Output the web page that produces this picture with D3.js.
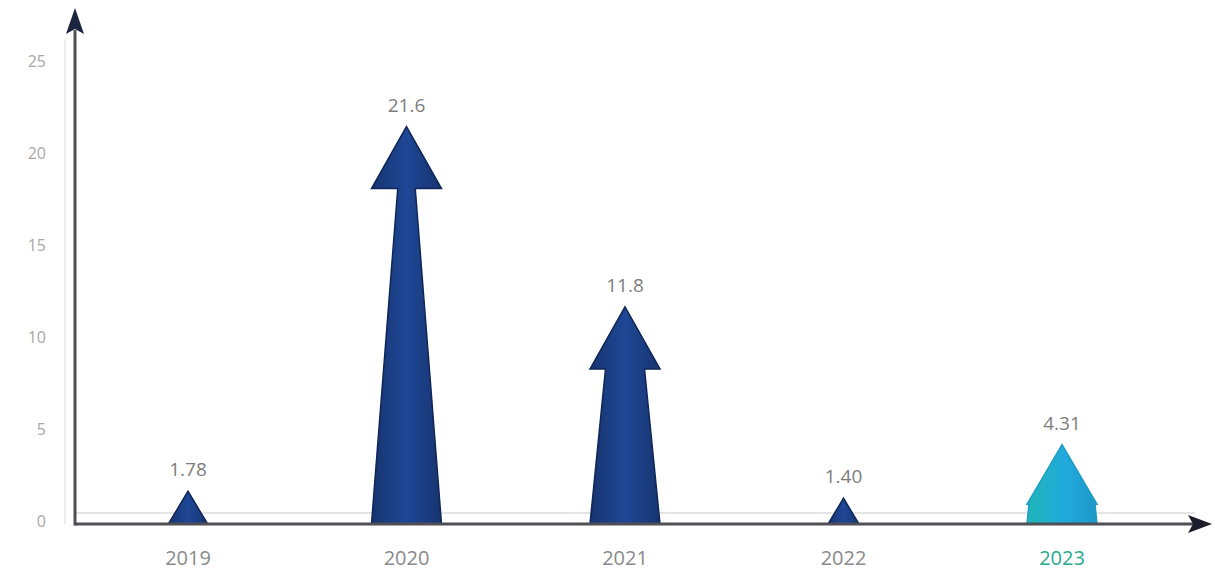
<!DOCTYPE html>
<html>
<head>
<meta charset="utf-8">
<script src="https://cdn.jsdelivr.net/npm/d3@7"></script>
<style>
  html, body { margin: 0; padding: 0; background: #fff; }
  svg { display: block; }
  text { font-family: "Open Sans", "Noto Sans", sans-serif; }
</style>
</head>
<body>
<svg id="chart" width="1215" height="574"></svg>
<script>
// Yearly values drawn as arrows
const years = ["2019", "2020", "2021", "2022", "2023"];
const values = [1.78, 21.6, 11.8, 1.40, 4.31];
const valueLabels = ["1.78", "21.6", "11.8", "1.40", "4.31"];
const yTicks = [0, 5, 10, 15, 20, 25];
const highlightYear = "2023";

const svg = d3.select("#chart");
const originX = 75, originY = 524;

const x = d3.scalePoint().domain(years).range([188, 1062]);
const y = d3.scaleLinear().domain([0, 25]).range([originY, 64]);

// Gradients for the arrow fills
const defs = svg.append("defs");
const gNavy = defs.append("linearGradient").attr("id", "navy").attr("x1", 0).attr("x2", 1).attr("y1", 0).attr("y2", 0);
gNavy.append("stop").attr("offset", "0%").attr("stop-color", "#17346f");
gNavy.append("stop").attr("offset", "50%").attr("stop-color", "#1f4796");
gNavy.append("stop").attr("offset", "100%").attr("stop-color", "#17346f");
const gCyan = defs.append("linearGradient").attr("id", "cyan").attr("x1", 0).attr("x2", 1).attr("y1", 0).attr("y2", 0);
gCyan.append("stop").attr("offset", "0%").attr("stop-color", "#1fb5b8");
gCyan.append("stop").attr("offset", "55%").attr("stop-color", "#21a9dc");
gCyan.append("stop").attr("offset", "100%").attr("stop-color", "#1d98c8");

// Faint guide lines beside the axes
svg.append("line").attr("x1", originX).attr("x2", 1195).attr("y1", originY - 11).attr("y2", originY - 11)
  .attr("stroke", "#e4e4e4").attr("stroke-width", 2);
svg.append("line").attr("x1", originX - 10).attr("x2", originX - 10).attr("y1", 40).attr("y2", originY)
  .attr("stroke", "#ececec").attr("stroke-width", 2);

// Y tick labels
svg.append("g").selectAll("text").data(yTicks).join("text")
  .attr("x", 46).attr("y", d => y(d) - 3).attr("dy", "0.35em")
  .attr("text-anchor", "end").attr("font-size", 16).attr("fill", "#a8a8a8")
  .text(d => d);

// Arrow path: triangular head over a tapering shaft (short values are plain triangles)
function arrowPath(cx, v) {
  const y0 = y(0), yt = y(v);
  const h = y0 - yt;
  const hw = Math.min(35, h * 0.6);
  const headH = h < 50 ? h : Math.min(62, h * 0.75);
  const shaftLen = h - headH;
  const topHalf = hw - Math.min(hw * 0.75, shaftLen * 0.1);
  const yb = yt + headH;
  if (shaftLen <= 0) {
    return ["M", cx, yt, "L", cx + hw, y0, "L", cx - hw, y0, "Z"].join(" ");
  }
  return [
    "M", cx, yt,
    "L", cx + hw, yb,
    "L", cx + topHalf, yb,
    "L", cx + hw, y0,
    "L", cx - hw, y0,
    "L", cx - topHalf, yb,
    "L", cx - hw, yb,
    "Z"
  ].join(" ");
}

const data = years.map((yr, i) => ({ year: yr, value: values[i], label: valueLabels[i] }));

svg.append("g").selectAll("path").data(data).join("path")
  .attr("d", d => arrowPath(x(d.year), d.value))
  .attr("fill", d => d.year === highlightYear ? "url(#cyan)" : "url(#navy)")
  .attr("stroke", d => d.year === highlightYear ? "#1c9cc4" : "#0f2657")
  .attr("stroke-width", 1.5)
  .attr("stroke-linejoin", "miter");

// Value labels above arrow tips
svg.append("g").selectAll("text").data(data).join("text")
  .attr("x", d => x(d.year)).attr("y", d => y(d.value) - 15)
  .attr("text-anchor", "middle").attr("font-size", 19).attr("fill", "#7d7d7d")
  .text(d => d.label);

// Axes with arrowheads
svg.append("line").attr("x1", originX).attr("x2", 1195).attr("y1", originY).attr("y2", originY)
  .attr("stroke", "#4f4f55").attr("stroke-width", 3);
svg.append("path").attr("d", `M1212 ${originY} L1188 ${originY - 9} L1193 ${originY} L1188 ${originY + 9} Z`)
  .attr("fill", "#1c1c2a");
svg.append("line").attr("x1", originX).attr("x2", originX).attr("y1", originY + 1.5).attr("y2", 30)
  .attr("stroke", "#4f4f55").attr("stroke-width", 3);
svg.append("path").attr("d", `M${originX} 8 L${originX + 9} 34 L${originX} 29 L${originX - 9} 34 Z`)
  .attr("fill", "#1c2440");

// Category labels
svg.append("g").selectAll("text").data(years).join("text")
  .attr("x", d => x(d)).attr("y", 558).attr("dy", "0.35em")
  .attr("text-anchor", "middle").attr("font-size", 20)
  .attr("fill", d => d === highlightYear ? "#27a98e" : "#8a8a8a")
  .text(d => d);
</script>
</body>
</html>
